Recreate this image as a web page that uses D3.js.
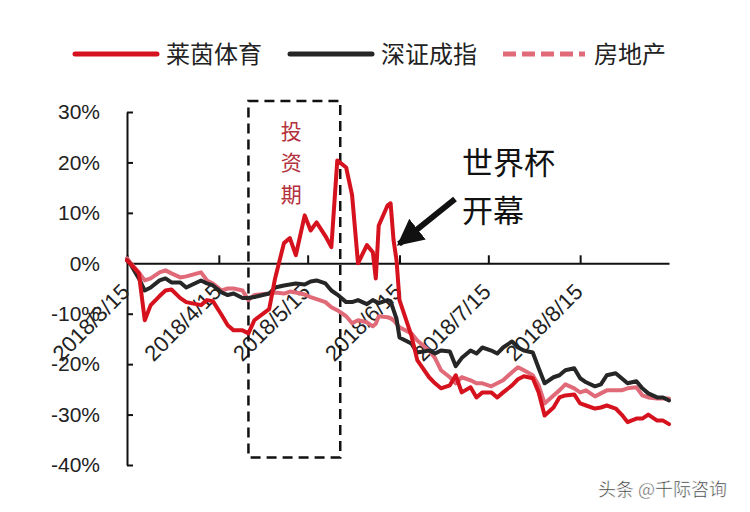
<!DOCTYPE html>
<html><head><meta charset="utf-8">
<script src="https://cdn.jsdelivr.net/npm/d3@7/dist/d3.min.js"></script>
<style>
body{margin:0;background:#fff;}
svg{display:block;}
text{font-family:"Liberation Sans",Arial,sans-serif;}
.cjk{font-family:"Noto Sans CJK SC",sans-serif;}
</style></head>
<body>
<svg id="c" width="750" height="512"></svg>
<script>
const dates = ["2018-03-15","2018-03-16","2018-03-19","2018-03-21","2018-03-23","2018-03-26","2018-03-28","2018-03-30","2018-04-02","2018-04-04","2018-04-09","2018-04-11","2018-04-13","2018-04-16","2018-04-18","2018-04-20","2018-04-23","2018-04-25","2018-04-27","2018-05-02","2018-05-04","2018-05-07","2018-05-09","2018-05-11","2018-05-14","2018-05-16","2018-05-18","2018-05-21","2018-05-23","2018-05-25","2018-05-28","2018-05-30","2018-06-01","2018-06-04","2018-06-06","2018-06-07","2018-06-08","2018-06-11","2018-06-12","2018-06-13","2018-06-14","2018-06-15","2018-06-19","2018-06-21","2018-06-25","2018-06-27","2018-06-29","2018-07-02","2018-07-04","2018-07-06","2018-07-09","2018-07-11","2018-07-13","2018-07-16","2018-07-18","2018-07-20","2018-07-23","2018-07-25","2018-07-27","2018-07-30","2018-08-01","2018-08-03","2018-08-06","2018-08-08","2018-08-10","2018-08-13","2018-08-15","2018-08-17","2018-08-20","2018-08-22","2018-08-24","2018-08-27","2018-08-29","2018-08-31","2018-09-03","2018-09-05","2018-09-07","2018-09-10","2018-09-12","2018-09-14"];

// 莱茵体育
const laiyin = [0.6,0,-2,-11.3,-8.3,-6.5,-5.4,-5.2,-6.9,-7.7,-8.3,-7.3,-7.5,-10.3,-12.3,-13.3,-13.3,-13.9,-11.3,-9.1,-3,4,5,1.6,9.5,6.5,8.1,5.4,3.2,20.4,19,13.5,0,3.6,2.2,-3,7.5,11.5,11.9,4.6,0.6,-7.3,-14.3,-19.2,-22.6,-23.8,-24.8,-24.2,-22.2,-25.6,-24.6,-26.6,-25.6,-25.6,-26.6,-25.6,-24.2,-23,-22.4,-22.8,-25.6,-30.2,-28.6,-26.6,-26.2,-26,-27.8,-28.2,-28.8,-28.6,-28.2,-28.8,-30,-31.5,-30.8,-30.8,-30,-31.2,-31.2,-31.9];
// 深证成指
const shenzhen = [0.6,0,-3,-5.4,-4.8,-3.4,-3,-3.8,-3.8,-4.8,-3.4,-4,-4.4,-5.8,-6.3,-6,-6.9,-6.9,-6.7,-6,-4.8,-4.4,-4.2,-4,-4.2,-3.6,-3.4,-4,-5.4,-6.2,-7.7,-7.7,-7.3,-8.1,-7.3,-7.6,-7.9,-7.3,-7.5,-9.3,-11,-14.7,-15.9,-17.7,-17.3,-17.9,-17.3,-17.5,-20.4,-18.8,-17.3,-17.9,-16.7,-17.3,-17.9,-16.7,-15.5,-16.7,-17.3,-17.7,-20.8,-23.8,-22.6,-22.2,-21.2,-20.8,-22.8,-23.6,-24.4,-24,-22.2,-21.8,-22.8,-23.8,-23.4,-24.8,-25.8,-26.6,-26.6,-27.2];
// 房地产
const fangdichan = [1,0.2,-1.8,-3.4,-3,-1.8,-1.4,-2,-2.8,-2.6,-1.8,-3.4,-4,-5.4,-5,-5,-5.4,-7.3,-6.3,-6,-5.8,-6,-5.6,-5.8,-6.2,-6.7,-7.1,-7.7,-8.7,-9.3,-10.5,-11.9,-11.3,-11.7,-12.5,-12,-10.5,-10.7,-10.9,-11.3,-12,-12.7,-13.9,-15.3,-17.3,-18.8,-21.2,-22.6,-23.8,-22.6,-23.2,-23.8,-23.8,-24.4,-23.8,-23.2,-21.6,-20.6,-21.2,-22.2,-24.2,-27.8,-26.2,-25.2,-24,-24.8,-25.6,-25.2,-26.4,-25.8,-25.2,-25.2,-25.2,-24.8,-24.6,-26.2,-26.6,-26.8,-26.8,-26.8];

const seriesNames = ["莱茵体育","深证成指","房地产"];
const yTicks = [30,20,10,0,-10,-20,-30,-40];
const xTickLabels = ["2018/3/15","2018/4/15","2018/5/15","2018/6/15","2018/7/15","2018/8/15"];
const xTickDates = ["2018-03-15","2018-04-15","2018-05-15","2018-06-15","2018-07-15","2018-08-15"];
const boxRange = ["2018-04-25","2018-05-26"];
const boxText = ["投","资","期"];
const noteLines = ["世界杯","开幕"];
const watermark = "头条 @千际咨询";

const parse = d3.timeParse("%Y-%m-%d");
const svg = d3.select("#c");

const x = d3.scaleTime().domain([parse("2018-03-15"), parse("2018-09-14")]).range([127, 669]);
const y = d3.scaleLinear().domain([-40, 30]).range([465, 112]);

const colors = {"莱茵体育":"#d5121e","深证成指":"#262626","房地产":"#e06a78"};

// axes
const yAxis = d3.axisLeft(y).tickValues(yTicks).tickFormat(d => d + "%").tickSizeInner(-6).tickSizeOuter(0).tickPadding(27);
const gy = svg.append("g").attr("transform","translate(127,0)").call(yAxis);
gy.select(".domain").attr("stroke","#111").attr("stroke-width",2);
gy.selectAll(".tick line").attr("stroke","#111").attr("stroke-width",2);
gy.selectAll(".tick text").attr("font-size",21).attr("fill","#222").attr("font-family","Liberation Sans, Arial, sans-serif");

const xAxis = d3.axisBottom(x).tickValues(xTickDates.map(parse)).tickFormat("").tickSizeInner(-8).tickSizeOuter(0);
const gx = svg.append("g").attr("transform","translate(0," + y(0) + ")").call(xAxis);
gx.select(".domain").attr("stroke","#111").attr("stroke-width",2);
gx.selectAll(".tick line").attr("stroke","#111").attr("stroke-width",2);

// x labels rotated
svg.append("g").selectAll("text").data(xTickDates).join("text")
  .attr("transform", (d) => "translate(" + (x(parse(d)) - 7) + "," + (y(0) + 19) + ") rotate(-45)")
  .attr("text-anchor","end").attr("dy","0.7em")
  .attr("font-size",22).attr("fill","#222")
  .text((d,i) => xTickLabels[i]);

// dashed box
const bx0 = x(parse(boxRange[0])), bx1 = x(parse(boxRange[1]));
svg.append("rect").attr("x", bx0).attr("y", y(32.2)).attr("width", bx1 - bx0).attr("height", y(-38.5) - y(32.2))
  .attr("fill","none").attr("stroke","#111").attr("stroke-width",2.5).attr("stroke-dasharray","10,6");
svg.append("g").selectAll("text").data(boxText).join("text")
  .attr("class","cjk").attr("x", (bx0 + bx1) / 2 - 3).attr("y", (d,i) => y(24.7) + i * 31.5)
  .attr("text-anchor","middle").attr("font-size",21).attr("fill","#b3303c").text(d => d);

// lines
const table = {"莱茵体育": laiyin, "深证成指": shenzhen, "房地产": fangdichan};
const line = d3.line().x((d,i) => x(parse(dates[i]))).y(d => y(d));
["房地产","深证成指","莱茵体育"].forEach(name => {
  svg.append("path").datum(table[name]).attr("d", line)
    .attr("fill","none").attr("stroke", colors[name]).attr("stroke-width",4)
    .attr("stroke-linejoin","round").attr("stroke-linecap","round");
});

// annotation
svg.append("g").selectAll("text").data(noteLines).join("text")
  .attr("class","cjk").attr("x", 462).attr("y", (d,i) => 174 + i * 48)
  .attr("font-size",31).attr("fill","#111").text(d => d);
const defs = svg.append("defs");
defs.append("marker").attr("id","ah").attr("viewBox","0 0 10 10").attr("refX",9).attr("refY",5)
  .attr("markerWidth",4.4).attr("markerHeight",4.4).attr("orient","auto")
  .append("path").attr("d","M0,0 L10,5 L0,10 z").attr("fill","#111");
svg.append("line").attr("x1",455).attr("y1",199).attr("x2",399).attr("y2",244)
  .attr("stroke","#111").attr("stroke-width",6).attr("marker-end","url(#ah)");

// legend
const lg = svg.append("g");
const legendItems = [
  {name:"莱茵体育", x0:75, dash:null},
  {name:"深证成指", x0:290, dash:null},
  {name:"房地产", x0:503, dash:"13,6"}
];
legendItems.forEach(it => {
  lg.append("line").attr("x1", it.x0).attr("x2", it.x0 + 82).attr("y1",54).attr("y2",54)
    .attr("stroke", colors[it.name]).attr("stroke-width",5).attr("stroke-linecap", it.dash ? "butt" : "round")
    .attr("stroke-dasharray", it.dash);
  lg.append("text").attr("class","cjk").attr("x", it.x0 + 91).attr("y", 63).attr("font-size",24)
    .attr("fill","#222").text(it.name);
});

// watermark
svg.append("text").attr("class","cjk").attr("x", 598).attr("y", 496).attr("font-size",18)
  .attr("fill","#333").attr("stroke","#fff").attr("stroke-width",0.5).text(watermark);
</script>
</body></html>
